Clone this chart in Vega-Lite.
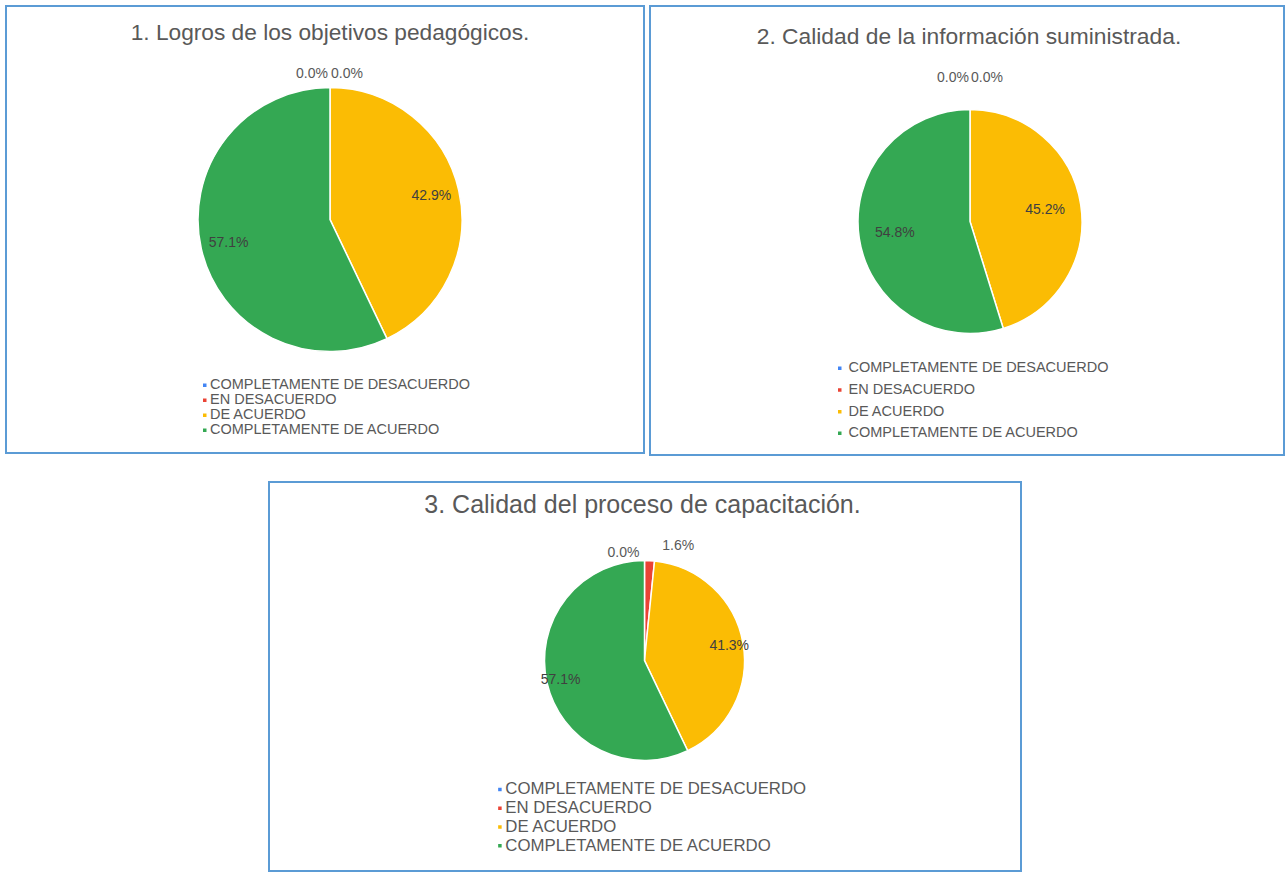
{
  "$schema": "https://vega.github.io/schema/vega-lite/v6.json",
  "background": "white",
  "padding": {"left": 5, "top": 5, "right": 0, "bottom": 0},
  "config": {
    "view": {"stroke": "#5B9BD5", "strokeWidth": 2},
    "font": "Liberation Sans",
    "legend": {"padding": 0, "symbolType": "square", "symbolSize": 25, "labelColor": "#595959", "labelFont": "Liberation Sans", "labelLimit": 0, "title": null}
  },
  "data": {"values": [
    {"panel": 1, "idx": 1, "cat": "COMPLETAMENTE DE DESACUERDO", "v": 0},
    {"panel": 1, "idx": 2, "cat": "EN DESACUERDO", "v": 0},
    {"panel": 1, "idx": 3, "cat": "DE ACUERDO", "v": 0.429},
    {"panel": 1, "idx": 4, "cat": "COMPLETAMENTE DE ACUERDO", "v": 0.571},
    {"panel": 2, "idx": 1, "cat": "COMPLETAMENTE DE DESACUERDO", "v": 0},
    {"panel": 2, "idx": 2, "cat": "EN DESACUERDO", "v": 0},
    {"panel": 2, "idx": 3, "cat": "DE ACUERDO", "v": 0.452},
    {"panel": 2, "idx": 4, "cat": "COMPLETAMENTE DE ACUERDO", "v": 0.548},
    {"panel": 3, "idx": 1, "cat": "COMPLETAMENTE DE DESACUERDO", "v": 0},
    {"panel": 3, "idx": 2, "cat": "EN DESACUERDO", "v": 0.016},
    {"panel": 3, "idx": 3, "cat": "DE ACUERDO", "v": 0.413},
    {"panel": 3, "idx": 4, "cat": "COMPLETAMENTE DE ACUERDO", "v": 0.571}
  ]},
  "resolve": {"scale": {"color": "independent", "theta": "independent"}, "legend": {"color": "independent"}},
  "vconcat": [
    {
      "hconcat": [
        {
          "width": 638, "height": 447,
          "view": {"stroke": "#5B9BD5", "strokeWidth": 2},
          "title": {"text": "1. Logros de los objetivos pedagógicos.", "frame": "group", "anchor": "middle", "baseline": "middle", "offset": -50, "dx": 5, "fontSize": 22.7, "fontWeight": "normal", "color": "#595959", "font": "Liberation Sans"},
          "transform": [{"filter": "datum.panel == 1"}],
          "encoding": {
            "theta": {"field": "v", "type": "quantitative", "stack": true},
            "order": {"field": "idx", "type": "quantitative"},
            "color": {"field": "cat", "type": "nominal",
              "scale": {"domain": ["COMPLETAMENTE DE DESACUERDO", "EN DESACUERDO", "DE ACUERDO", "COMPLETAMENTE DE ACUERDO"], "range": ["#4285F4", "#EA4335", "#FBBC04", "#34A853"]},
              "legend": {"orient": "none", "legendX": 191.5, "legendY": 372, "labelFontSize": 14.5, "labelOffset": -2, "rowPadding": 0}}
          },
          "layer": [
            {"mark": {"type": "arc", "outerRadius": 132, "stroke": "white", "strokeWidth": 1.5, "xOffset": 5, "yOffset": -10}},
            {"mark": {"type": "text", "radius": 104, "xOffset": 5, "yOffset": -10, "fontSize": 14, "font": "Liberation Sans"},
             "encoding": {"text": {"field": "v", "type": "quantitative", "format": ".1%"}, "color": {"value": "#404040"},
               "opacity": {"condition": {"test": "datum.v < 0.05", "value": 0}, "value": 1}}},
            {"mark": {"type": "text", "radius": 146, "xOffset": 5, "yOffset": -10, "fontSize": 14, "align": "right", "dx": -2, "font": "Liberation Sans"},
             "encoding": {"text": {"field": "v", "type": "quantitative", "format": ".1%"}, "color": {"value": "#595959"},
               "opacity": {"condition": {"test": "datum.idx == 1", "value": 1}, "value": 0}}},
            {"mark": {"type": "text", "radius": 146, "xOffset": 5, "yOffset": -10, "fontSize": 14, "align": "left", "dx": 1, "font": "Liberation Sans"},
             "encoding": {"text": {"field": "v", "type": "quantitative", "format": ".1%"}, "color": {"value": "#595959"},
               "opacity": {"condition": {"test": "datum.idx == 2", "value": 1}, "value": 0}}}
          ]
        },
        {
          "width": 634, "height": 449,
          "view": {"stroke": "#5B9BD5", "strokeWidth": 2},
          "title": {"text": "2. Calidad de la información suministrada.", "frame": "group", "anchor": "middle", "baseline": "middle", "offset": -53.5, "dx": 2, "fontSize": 22.8, "fontWeight": "normal", "color": "#595959", "font": "Liberation Sans"},
          "transform": [{"filter": "datum.panel == 2"}],
          "encoding": {
            "theta": {"field": "v", "type": "quantitative", "stack": true},
            "order": {"field": "idx", "type": "quantitative"},
            "color": {"field": "cat", "type": "nominal",
              "scale": {"domain": ["COMPLETAMENTE DE DESACUERDO", "EN DESACUERDO", "DE ACUERDO", "COMPLETAMENTE DE ACUERDO"], "range": ["#4285F4", "#EA4335", "#FBBC04", "#34A853"]},
              "legend": {"orient": "none", "legendX": 182.5, "legendY": 355, "labelFontSize": 14.5, "labelOffset": 1.5, "rowPadding": 6.7}}
          },
          "layer": [
            {"mark": {"type": "arc", "outerRadius": 112, "stroke": "white", "strokeWidth": 1.5, "xOffset": 3, "yOffset": -9}},
            {"mark": {"type": "text", "radius": 76, "xOffset": 3, "yOffset": -9, "fontSize": 14, "font": "Liberation Sans"},
             "encoding": {"text": {"field": "v", "type": "quantitative", "format": ".1%"}, "color": {"value": "#404040"},
               "opacity": {"condition": {"test": "datum.v < 0.05", "value": 0}, "value": 1}}},
            {"mark": {"type": "text", "radius": 144, "xOffset": 3, "yOffset": -9, "fontSize": 14, "align": "right", "dx": -1, "font": "Liberation Sans"},
             "encoding": {"text": {"field": "v", "type": "quantitative", "format": ".1%"}, "color": {"value": "#595959"},
               "opacity": {"condition": {"test": "datum.idx == 1", "value": 1}, "value": 0}}},
            {"mark": {"type": "text", "radius": 144, "xOffset": 3, "yOffset": -9, "fontSize": 14, "align": "left", "dx": 1, "font": "Liberation Sans"},
             "encoding": {"text": {"field": "v", "type": "quantitative", "format": ".1%"}, "color": {"value": "#595959"},
               "opacity": {"condition": {"test": "datum.idx == 2", "value": 1}, "value": 0}}}
          ]
        }
      ],
      "spacing": 4,
      "resolve": {"scale": {"color": "independent", "theta": "independent"}, "legend": {"color": "independent"}}
    },
    {
      "width": 752, "height": 389,
      "view": {"stroke": "#5B9BD5", "strokeWidth": 2},
      "title": {"text": "3. Calidad del proceso de capacitación.", "frame": "group", "anchor": "middle", "baseline": "middle", "offset": -48, "dx": -2.5, "fontSize": 25, "fontWeight": "normal", "color": "#595959", "font": "Liberation Sans"},
      "transform": [{"filter": "datum.panel == 3"}],
      "encoding": {
        "theta": {"field": "v", "type": "quantitative", "stack": true},
        "order": {"field": "idx", "type": "quantitative"},
        "color": {"field": "cat", "type": "nominal",
          "scale": {"domain": ["COMPLETAMENTE DE DESACUERDO", "EN DESACUERDO", "DE ACUERDO", "COMPLETAMENTE DE ACUERDO"], "range": ["#4285F4", "#EA4335", "#FBBC04", "#34A853"]},
          "legend": {"orient": "none", "legendX": 222.5, "legendY": 299, "labelFontSize": 16.8, "labelOffset": -3, "rowPadding": 0.8}}
      },
      "layer": [
        {"mark": {"type": "arc", "outerRadius": 100, "stroke": "white", "strokeWidth": 1.5, "xOffset": -0.5, "yOffset": -16}},
        {"mark": {"type": "text", "radius": 86, "xOffset": -0.5, "yOffset": -16, "fontSize": 14, "font": "Liberation Sans"},
         "encoding": {"text": {"field": "v", "type": "quantitative", "format": ".1%"}, "color": {"value": "#404040"},
           "opacity": {"condition": {"test": "datum.v < 0.05", "value": 0}, "value": 1}}},
        {"mark": {"type": "text", "radius": 108, "xOffset": -0.5, "yOffset": -16, "fontSize": 14, "align": "right", "dx": -5, "font": "Liberation Sans"},
         "encoding": {"text": {"field": "v", "type": "quantitative", "format": ".1%"}, "color": {"value": "#595959"},
           "opacity": {"condition": {"test": "datum.idx == 1", "value": 1}, "value": 0}}},
        {"mark": {"type": "text", "radius": 115, "xOffset": -0.5, "yOffset": -16, "fontSize": 14, "align": "left", "dx": 12, "font": "Liberation Sans"},
         "encoding": {"text": {"field": "v", "type": "quantitative", "format": ".1%"}, "color": {"value": "#595959"},
           "opacity": {"condition": {"test": "datum.idx == 2", "value": 1}, "value": 0}}}
      ]
    }
  ],
  "spacing": 25,
  "center": true
}
